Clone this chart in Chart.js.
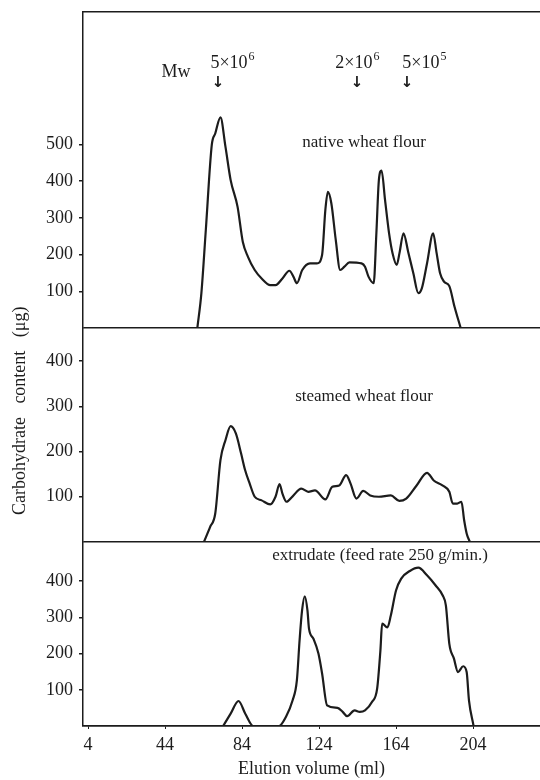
<!DOCTYPE html>
<html>
<head>
<meta charset="utf-8">
<script src="https://cdn.jsdelivr.net/npm/chart.js@4/dist/chart.umd.min.js"></script>
<style>
    html, body { margin: 0; padding: 0; background: #fff; }
</style>
</head>
<body>
<canvas id="chart" width="540" height="780"></canvas>
<script>
// elution volume (ml) / carbohydrate content (ug)
const nativeMl = [60.8, 62.9, 65.2, 68.3, 70.1, 72.8, 75.4, 78.1, 81.7, 84.4, 87.1, 90.6, 94.2, 98.7, 101.4, 105.0, 108.6, 110.7, 112.5, 115.3, 119.3, 122.9, 125.6, 127.3, 128.6, 130.4, 132.7, 135.0, 137.2, 139.8, 146.1, 147.9, 149.7, 152.4, 153.8, 155.1, 156.5, 158.3, 160.4, 162.2, 164.4, 165.8, 167.9, 170.3, 173.0, 175.6, 177.4, 180.1, 183.3, 185.1, 186.9, 189.0, 191.7, 194.4, 197.6];
const nativeUg = [0, 95, 267, 499, 530, 574, 494, 403, 330, 235, 194, 158, 135, 117, 117, 135, 156, 140, 122, 158, 176, 176, 199, 322, 371, 340, 240, 158, 167, 179, 176, 167, 140, 122, 258, 403, 429, 349, 258, 204, 172, 204, 258, 208, 149, 95, 108, 176, 258, 204, 149, 126, 114, 58, 0];

const steamedMl = [64.2, 67.4, 70.1, 72.8, 75.4, 78.1, 80.8, 83.5, 85.6, 88.0, 90.6, 94.2, 98.7, 101.4, 103.5, 105.0, 107.1, 110.3, 114.8, 118.4, 121.9, 127.3, 130.9, 134.5, 138.1, 140.4, 143.4, 147.0, 150.6, 155.1, 161.3, 165.7, 169.3, 174.7, 180.1, 183.6, 188.1, 191.7, 193.5, 195.8, 198.0, 199.4, 200.7, 202.4];
const steamedUg = [0, 33, 63, 181, 225, 256, 240, 196, 159, 129, 100, 92, 83, 100, 128, 107, 89, 101, 118, 111, 114, 94, 122, 125, 148, 129, 96, 113, 103, 100, 103, 91, 96, 125, 153, 136, 125, 111, 85, 85, 89, 48, 19, 0];

const extrudateMl = [74.2, 78.1, 82.2, 85.7, 89.8, 103.2, 106.8, 110.3, 112.5, 113.9, 115.2, 116.6, 118.0, 118.8, 121.1, 123.7, 125.6, 128.2, 133.6, 136.3, 138.6, 142.5, 145.2, 147.9, 151.5, 154.2, 155.9, 156.8, 159.5, 161.3, 164.0, 166.7, 171.2, 175.6, 180.1, 184.6, 188.2, 189.9, 191.7, 194.1, 196.2, 198.9, 200.7, 201.9, 204.3];
const extrudateUg = [0, 34, 69, 34, 0, 0, 25, 71, 126, 236, 319, 358, 319, 269, 241, 200, 145, 57, 50, 39, 27, 43, 39, 43, 66, 103, 209, 283, 272, 305, 374, 407, 428, 437, 416, 388, 361, 333, 227, 186, 149, 165, 149, 71, 0];

const xTicks = [4, 44, 84, 124, 164, 204];
const topTicks = [100, 200, 300, 400, 500];
const midTicks = [100, 200, 300, 400];
const botTicks = [100, 200, 300, 400];

const panelNames = ['native wheat flour', 'steamed wheat flour', 'extrudate (feed rate 250 g/min.)'];
// where each panel name sits, in ml / ug of its own panel
const panelNameMl = [147.4, 147.4, 155.7];
const panelNameUg = [504, 322, 471];

// molecular weight markers on the top panel
const mwBase = ['5\u00d710', '2\u00d710', '5\u00d710'];
const mwExp = ['6', '6', '5'];
const mwLabelMl = [78.8, 143.7, 178.5];
const mwArrowMl = [71.5, 143.7, 169.7];

const INK = '#1c1c1c';
const SERIF = '"Liberation Serif", "Times New Roman", serif';

Chart.defaults.font.family = SERIF;
Chart.defaults.font.size = 18;
Chart.defaults.color = INK;

const toPoints = (xs, ys) => xs.map((x, i) => ({ x: x, y: ys[i] }));

const yPanel = (max, ticks, weight) => ({
    type: 'linear',
    position: 'left',
    stack: 'panels',
    stackWeight: weight,
    min: 0,
    max: max,
    afterBuildTicks: (s) => { s.ticks = [0, ...ticks].map(v => ({ value: v })); },
    afterFit: (s) => {
        s.width = 83;
        // labels never reach the panel edges, so no extra room is needed
        s.paddingTop = 0;
        s.paddingBottom = 0;
    },
    border: { color: INK, width: 1.5 },
    grid: {
        color: (c) => (c.tick && c.tick.value === 0 ? INK : 'rgba(0,0,0,0)'),
        tickColor: (c) => (c.tick && c.tick.value === 0 ? 'rgba(0,0,0,0)' : INK),
        lineWidth: 1.5,
        tickLength: 4
    },
    ticks: { padding: 6, autoSkip: false, callback: (v) => (v === 0 ? '' : v) }
});

const line = (xs, ys, axis) => ({
    data: toPoints(xs, ys),
    yAxisID: axis,
    borderColor: INK,
    borderWidth: 2.2,
    pointRadius: 0,
    tension: 0.4,
    cubicInterpolationMode: 'monotone',
    fill: false
});

const drawSup = (ctx, base, sup, cx, cy) => {
    ctx.font = '18px ' + SERIF;
    const wb = ctx.measureText(base).width;
    ctx.font = '12px ' + SERIF;
    const ws = ctx.measureText(sup).width;
    const left = cx - (wb + ws) / 2;
    ctx.textAlign = 'left';
    ctx.font = '18px ' + SERIF;
    ctx.fillText(base, left, cy);
    ctx.font = '12px ' + SERIF;
    ctx.fillText(sup, left + wb + 1, cy - 6);
};

const notesPlugin = {
    id: 'notes',
    afterDraw: (chart) => {
        const { ctx, scales } = chart;
        const x = scales.x;
        const axes = [scales.yTop, scales.yMid, scales.yBot];
        ctx.save();
        ctx.fillStyle = INK;
        ctx.textBaseline = 'middle';

        // panel names
        ctx.font = '17px ' + SERIF;
        ctx.textAlign = 'center';
        panelNames.forEach((name, i) => {
            ctx.fillText(name, x.getPixelForValue(panelNameMl[i]), axes[i].getPixelForValue(panelNameUg[i]));
        });

        // Mw markers
        const yTop = scales.yTop;
        ctx.font = '18px ' + SERIF;
        ctx.fillText('Mw', x.getPixelForValue(49.7), yTop.getPixelForValue(697));
        mwBase.forEach((b, i) => {
            drawSup(ctx, b, mwExp[i], x.getPixelForValue(mwLabelMl[i]), yTop.getPixelForValue(722));
        });
        ctx.textAlign = 'center';
        ctx.font = 'bold 15px "DejaVu Sans", sans-serif';
        mwArrowMl.forEach((m) => {
            ctx.fillText('\u2193', x.getPixelForValue(m), yTop.getPixelForValue(667));
        });

        // shared y title
        const yMid = scales.yMid;
        ctx.translate(yMid.left + 20, yMid.getPixelForValue(290));
        ctx.rotate(-Math.PI / 2);
        ctx.font = '18px ' + SERIF;
        ctx.fillText('Carbohydrate   content   (\u03bcg)', 0, 0);
        ctx.restore();
    }
};

new Chart(document.getElementById('chart'), {
    type: 'line',
    data: {
        datasets: [
            line(nativeMl, nativeUg, 'yTop'),
            line(steamedMl, steamedUg, 'yMid'),
            line(extrudateMl, extrudateUg, 'yBot')
        ]
    },
    options: {
        responsive: false,
        animation: false,
        devicePixelRatio: 1,
        layout: { autoPadding: false, padding: { top: 12, right: 0, bottom: 0, left: 0 } },
        plugins: { legend: { display: false }, tooltip: { enabled: false } },
        scales: {
            x: {
                type: 'linear',
                position: 'bottom',
                min: 1.4,
                max: 238.8,
                afterBuildTicks: (s) => { s.ticks = xTicks.map(v => ({ value: v })); },
                afterFit: (s) => { s.height = 54; },
                border: { color: INK, width: 1.5 },
                grid: { drawOnChartArea: false, tickLength: 3, color: INK },
                ticks: { padding: 5, maxRotation: 0, autoSkip: false },
                title: { display: true, text: 'Elution volume (ml)', padding: 0 }
            },
            xTop: {
                type: 'linear',
                position: 'top',
                min: 1.4,
                max: 238.8,
                ticks: { display: false },
                grid: { display: false, drawTicks: false },
                border: { color: INK, width: 1.5 },
                afterFit: (s) => { s.height = 0; }
            },
            yBot: yPanel(508, botTicks, 184),
            yMid: yPanel(473, midTicks, 214),
            yTop: yPanel(861, topTicks, 316)
        }
    },
    plugins: [notesPlugin]
});
</script>
</body>
</html>
